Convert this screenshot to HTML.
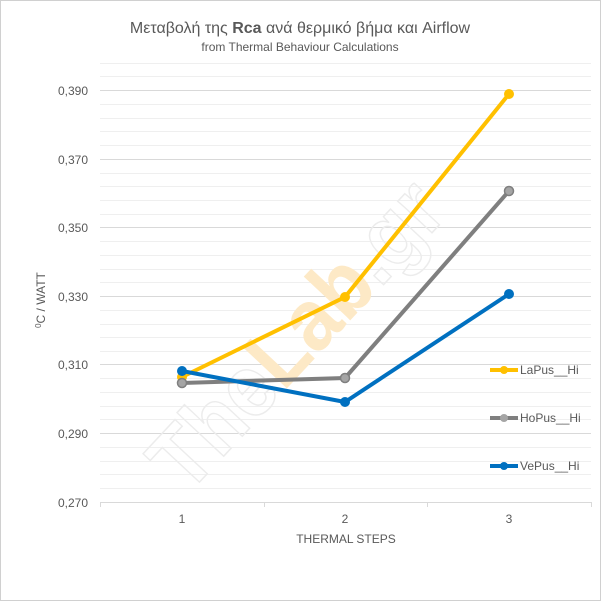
<!DOCTYPE html>
<html><head><meta charset="utf-8"><style>
body{margin:0;background:#fff}
svg{display:block;font-family:"Liberation Sans",sans-serif}
</style></head><body>
<svg width="601" height="601" viewBox="0 0 601 601" xmlns="http://www.w3.org/2000/svg">
<rect x="0.5" y="0.5" width="600" height="600" fill="#fff" stroke="#d0d0d0"/>
<text x="300" y="33" text-anchor="middle" font-size="16" fill="#595959">Μεταβολή της <tspan font-weight="bold">Rca</tspan> ανά θερμικό βήμα και  Airflow</text>
<text x="300" y="51" text-anchor="middle" font-size="12" fill="#595959">from Thermal Behaviour Calculations</text>
<g stroke="#efefef" stroke-width="1">
<line x1="100" x2="591" y1="63.5" y2="63.5"/><line x1="100" x2="591" y1="76.5" y2="76.5"/>
<line x1="100" x2="591" y1="104.5" y2="104.5"/><line x1="100" x2="591" y1="118.5" y2="118.5"/><line x1="100" x2="591" y1="131.5" y2="131.5"/><line x1="100" x2="591" y1="145.5" y2="145.5"/>
<line x1="100" x2="591" y1="173.5" y2="173.5"/><line x1="100" x2="591" y1="186.5" y2="186.5"/><line x1="100" x2="591" y1="200.5" y2="200.5"/><line x1="100" x2="591" y1="214.5" y2="214.5"/>
<line x1="100" x2="591" y1="241.5" y2="241.5"/><line x1="100" x2="591" y1="255.5" y2="255.5"/><line x1="100" x2="591" y1="269.5" y2="269.5"/><line x1="100" x2="591" y1="282.5" y2="282.5"/>
<line x1="100" x2="591" y1="310.5" y2="310.5"/><line x1="100" x2="591" y1="324.5" y2="324.5"/><line x1="100" x2="591" y1="337.5" y2="337.5"/><line x1="100" x2="591" y1="351.5" y2="351.5"/>
<line x1="100" x2="591" y1="378.5" y2="378.5"/><line x1="100" x2="591" y1="392.5" y2="392.5"/><line x1="100" x2="591" y1="406.5" y2="406.5"/><line x1="100" x2="591" y1="419.5" y2="419.5"/>
<line x1="100" x2="591" y1="447.5" y2="447.5"/><line x1="100" x2="591" y1="461.5" y2="461.5"/><line x1="100" x2="591" y1="474.5" y2="474.5"/><line x1="100" x2="591" y1="488.5" y2="488.5"/>
</g>
<g stroke="#d9d9d9" stroke-width="1">
<line x1="100" x2="591" y1="90.5" y2="90.5"/><line x1="100" x2="591" y1="159.5" y2="159.5"/><line x1="100" x2="591" y1="227.5" y2="227.5"/><line x1="100" x2="591" y1="296.5" y2="296.5"/><line x1="100" x2="591" y1="364.5" y2="364.5"/><line x1="100" x2="591" y1="433.5" y2="433.5"/>
<line x1="100" x2="591" y1="502.5" y2="502.5"/>
<line x1="100.5" x2="100.5" y1="502" y2="507"/><line x1="264.5" x2="264.5" y1="502" y2="507"/><line x1="427.5" x2="427.5" y1="502" y2="507"/><line x1="591.5" x2="591.5" y1="502" y2="507"/>
</g>
<g font-size="12" fill="#595959" text-anchor="end">
<text x="88" y="95">0,390</text><text x="88" y="164">0,370</text><text x="88" y="232">0,350</text><text x="88" y="301">0,330</text><text x="88" y="369">0,310</text><text x="88" y="438">0,290</text><text x="88" y="507">0,270</text>
</g>
<g font-size="12" fill="#595959" text-anchor="middle">
<text x="182" y="523">1</text><text x="345" y="523">2</text><text x="509" y="523">3</text>
<text x="346" y="543">THERMAL STEPS</text>
</g>
<text transform="translate(45,300) rotate(-90)" text-anchor="middle" font-size="12" fill="#595959"><tspan font-size="8" dy="-4">0</tspan><tspan dy="4">C / WATT</tspan></text>
<text transform="translate(318,355) rotate(-47)" text-anchor="middle" font-size="88" font-weight="bold" textLength="385" lengthAdjust="spacingAndGlyphs" fill="none" stroke="#ececec" stroke-width="1.5">The<tspan fill="#fde9c6" stroke="none">Lab</tspan>.gr</text>
<g stroke-width="4" fill="none">
<polyline stroke="#ffc000" points="182,377 345,297 509,94"/>
<polyline stroke="#7f7f7f" points="182,383 345,378 509,191"/>
<polyline stroke="#0070c0" points="182,371 345,402 509,294"/>
</g>
<g fill="#ffc000"><circle cx="182" cy="377" r="5"/><circle cx="345" cy="297" r="5"/><circle cx="509" cy="94" r="5"/></g>
<g fill="#a5a5a5" stroke="#7f7f7f" stroke-width="1.5"><circle cx="182" cy="383" r="4.5"/><circle cx="345" cy="378" r="4.5"/><circle cx="509" cy="191" r="4.5"/></g>
<g fill="#0070c0"><circle cx="182" cy="371" r="5"/><circle cx="345" cy="402" r="5"/><circle cx="509" cy="294" r="5"/></g>
<g stroke-width="4">
<line x1="490" x2="518" y1="370" y2="370" stroke="#ffc000"/><circle cx="504" cy="370" r="4" fill="#ffc000"/>
<line x1="490" x2="518" y1="418" y2="418" stroke="#7f7f7f"/><circle cx="504" cy="418" r="4" fill="#a5a5a5"/>
<line x1="490" x2="518" y1="466" y2="466" stroke="#0070c0"/><circle cx="504" cy="466" r="4" fill="#0070c0"/>
</g>
<g font-size="12" fill="#595959">
<text x="520" y="374">LaPus__Hi</text><text x="520" y="422">HoPus__Hi</text><text x="520" y="470">VePus__Hi</text>
</g>
</svg>
</body></html>
